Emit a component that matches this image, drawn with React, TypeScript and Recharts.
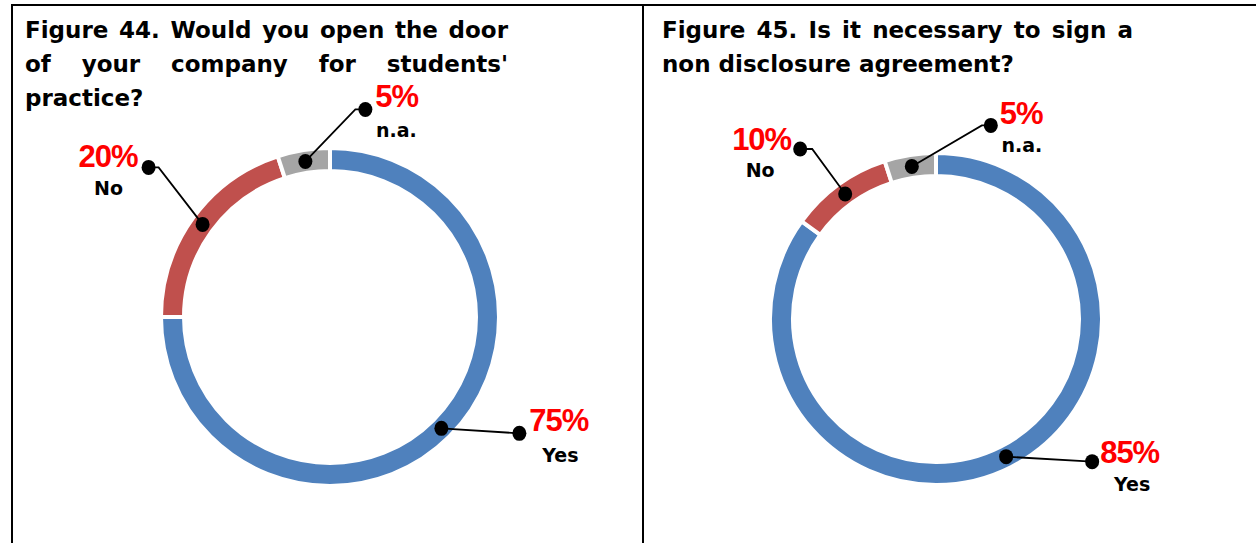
import { Cell, Pie, PieChart } from 'recharts';

const CATEGORIES = ['Yes', 'No', 'n.a.'];
const OPEN_DOOR = [75, 20, 5];
const NDA = [85, 10, 5];

const TITLE_44 = ['Figure 44. Would you open the door', "of your company for students'", 'practice?'];
const TITLE_45 = ['Figure 45. Is it necessary to sign a', 'non disclosure agreement?'];

const COLORS = ['#4F81BD', '#C0504D', '#A5A5A5'];

// callout styling: end-dot offset from the slice anchor, elbow length, text offsets from the end dot
type Callout = {
  dx: number;
  dy: number;
  elbow: number;
  side: 'left' | 'right';
  pct: [number, number];
  name: [number, number];
};

const CALLOUTS_44: Callout[] = [
  { dx: 78, dy: 5, elbow: 0, side: 'right', pct: [10, -2], name: [41, 29] },
  { dx: -54, dy: -57, elbow: 10, side: 'left', pct: [-11, 0], name: [-40, 28] },
  { dx: 60, dy: -52, elbow: -10, side: 'right', pct: [10, -2], name: [31, 28] },
];

const CALLOUTS_45: Callout[] = [
  { dx: 86, dy: 5, elbow: 0, side: 'right', pct: [8, 1], name: [40, 29] },
  { dx: -45, dy: -45, elbow: 12, side: 'left', pct: [-9, 1], name: [-40, 28] },
  { dx: 79, dy: -41, elbow: -9, side: 'right', pct: [9, -1], name: [31, 27] },
];

const toRows = (values: number[]) => CATEGORIES.map((name, i) => ({ name, value: values[i] }));

const RAD = Math.PI / 180;
const LABEL_FONT = '"DejaVu Sans", sans-serif';
const PCT_FONT = '"Liberation Sans", Arial, sans-serif';

function makeLabel(layout: Callout[]) {
  return (p: any) => {
    const c = layout[p.index];
    const r = (p.innerRadius + p.outerRadius) / 2;
    const ax = p.cx + r * Math.cos(-p.midAngle * RAD);
    const ay = p.cy + r * Math.sin(-p.midAngle * RAD);
    const ex = ax + c.dx;
    const ey = ay + c.dy;
    const pts = c.elbow
      ? `${ax},${ay} ${ex + c.elbow},${ey} ${ex},${ey}`
      : `${ax},${ay} ${ex},${ey}`;
    return (
      <g key={`lbl-${p.index}`}>
        <polyline points={pts} fill="none" stroke="#000" strokeWidth={1.8} />
        <ellipse cx={ax} cy={ay} rx={7} ry={7.5} fill="#000" />
        <ellipse cx={ex} cy={ey} rx={7} ry={7.5} fill="#000" />
        <text
          x={ex + c.pct[0]}
          y={ey + c.pct[1]}
          textAnchor={c.side === 'left' ? 'end' : 'start'}
          fill="#FF0000"
          fontFamily={PCT_FONT}
          fontWeight="bold"
          fontSize={31}
          letterSpacing={-1}
        >
          {`${p.value}%`}
        </text>
        <text
          x={ex + c.name[0]}
          y={ey + c.name[1]}
          textAnchor="middle"
          fill="#000"
          fontFamily={LABEL_FONT}
          fontWeight="bold"
          fontSize={19}
        >
          {p.name}
        </text>
      </g>
    );
  };
}

function Title({ lines, left, width }: { lines: string[]; left: number; width: number }) {
  return (
    <div
      style={{
        position: 'absolute',
        left,
        top: 13,
        width,
        fontFamily: LABEL_FONT,
        fontWeight: 'bold',
        fontSize: 23,
        lineHeight: '34px',
        color: '#000',
      }}
    >
      {lines.map((line, i) => (
        <div
          key={i}
          style={{
            textAlign: 'justify',
            textAlignLast: i < lines.length - 1 ? 'justify' : 'left',
            whiteSpace: 'nowrap',
          }}
        >
          {line}
        </div>
      ))}
    </div>
  );
}

const rule = (left: number, top: number, width: number, height: number) => (
  <div style={{ position: 'absolute', left, top, width, height, background: '#000' }} />
);

export default function App() {
  return (
    <div
      style={{
        position: 'absolute',
        left: 0,
        top: 0,
        width: 1256,
        height: 543,
        background: '#fff',
        overflow: 'hidden',
      }}
    >
      {rule(11, 4, 1245, 2)}
      {rule(11, 4, 2, 539)}
      {rule(642, 4, 2, 539)}
      <Title lines={TITLE_44} left={25} width={483} />
      <Title lines={TITLE_45} left={662} width={471} />
      <div style={{ position: 'absolute', left: 0, top: 0 }}>
        <PieChart width={1256} height={543} margin={{ top: 0, right: 0, bottom: 0, left: 0 }}>
          <Pie
            data={toRows(OPEN_DOOR)}
            dataKey="value"
            nameKey="name"
            cx={330}
            cy={317}
            innerRadius={146}
            outerRadius={169}
            startAngle={90}
            endAngle={-270}
            stroke="#fff"
            strokeWidth={4}
            labelLine={false}
            label={makeLabel(CALLOUTS_44)}
            isAnimationActive={false}
          >
            {OPEN_DOOR.map((_, i) => (
              <Cell key={i} fill={COLORS[i]} />
            ))}
          </Pie>
          <Pie
            data={toRows(NDA)}
            dataKey="value"
            nameKey="name"
            cx={936}
            cy={319}
            innerRadius={143}
            outerRadius={166}
            startAngle={90}
            endAngle={-270}
            stroke="#fff"
            strokeWidth={4}
            labelLine={false}
            label={makeLabel(CALLOUTS_45)}
            isAnimationActive={false}
          >
            {NDA.map((_, i) => (
              <Cell key={i} fill={COLORS[i]} />
            ))}
          </Pie>
        </PieChart>
      </div>
    </div>
  );
}
